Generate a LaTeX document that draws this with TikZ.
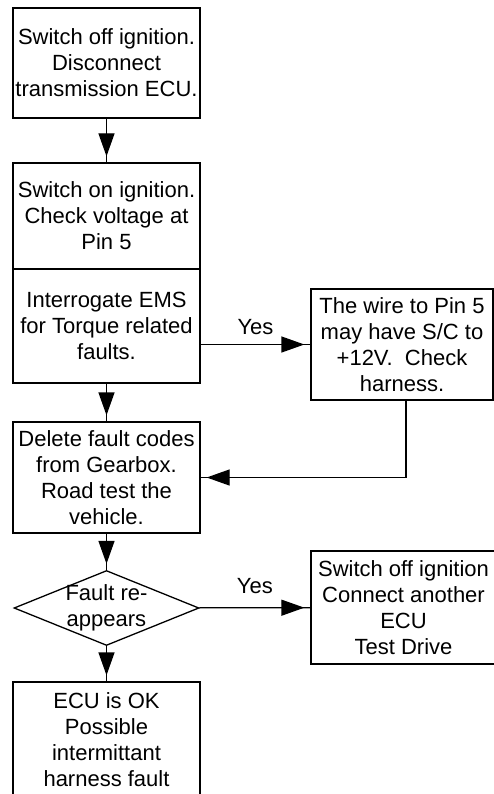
\documentclass[tikz,border=0pt]{standalone}
\usepackage{fontspec}
\setmainfont{Liberation Sans}
\usetikzlibrary{shapes.geometric,arrows.meta,positioning,decorations.markings}

\begin{document}
\begin{tikzpicture}[x=1pt,y=-1pt,
	txt/.style={font=\fontsize{22}{26}\selectfont,align=center},
	box/.style={txt,draw,line width=1.3pt,rectangle,inner sep=0pt},
	lbox/.style={box,minimum width=187pt},
	dia/.style={draw,line width=1.3pt,diamond,minimum width=185pt,minimum height=75pt,inner sep=0pt},
	yes/.style={txt},
	flow/.style={line width=1.3pt,postaction={decorate},
		decoration={markings,mark=at position -6pt with {\arrow{Triangle[length=23pt,width=16pt]}}}}]
\useasboundingbox (0,0) rectangle (494,794);
\node[lbox,minimum height=110pt] (off) at (106.5,63) {Switch off ignition.\\Disconnect\\transmission ECU.};
\node[lbox,minimum height=106pt] (on) at (106.5,216) {Switch on ignition.\\Check voltage at\\Pin 5};
\node[lbox,minimum height=114pt] (ems) at (106.5,326) {Interrogate EMS\\for Torque related\\faults.};
\node[lbox,minimum height=111pt] (gear) at (106.5,477.5) {Delete fault codes\\from Gearbox.\\Road test the\\vehicle.};
\node[dia,label={[txt]center:Fault re-\\appears}] (fault) at (106.5,608) {};
\node[lbox,minimum height=116pt] (ok) at (106.5,740) {ECU is OK\\Possible\\intermittant\\harness fault};
\node[box,minimum width=182pt,minimum height=111pt] (wire) at (402,344.5) {The wire to Pin 5\\may have S/C to\\+12V.~ Check\\harness.};
\node[box,minimum width=185pt,minimum height=113pt] (swap) at (403.5,607.5) {Switch off ignition\\Connect another\\ECU\\Test Drive};
\draw[flow] (off) -- (on);
\draw[flow] (ems) -- (gear);
\draw[flow] (gear) -- (fault);
\draw[flow] (fault) -- (ok);
\draw[flow] (ems.east |- wire) -- node[yes,above=6pt] {Yes} (wire);
\draw[flow] ([xshift=4pt]wire.south) |- (gear.east);
\draw[flow] (fault) -- node[yes,above=10pt] {Yes} (swap);
\end{tikzpicture}
\end{document}
